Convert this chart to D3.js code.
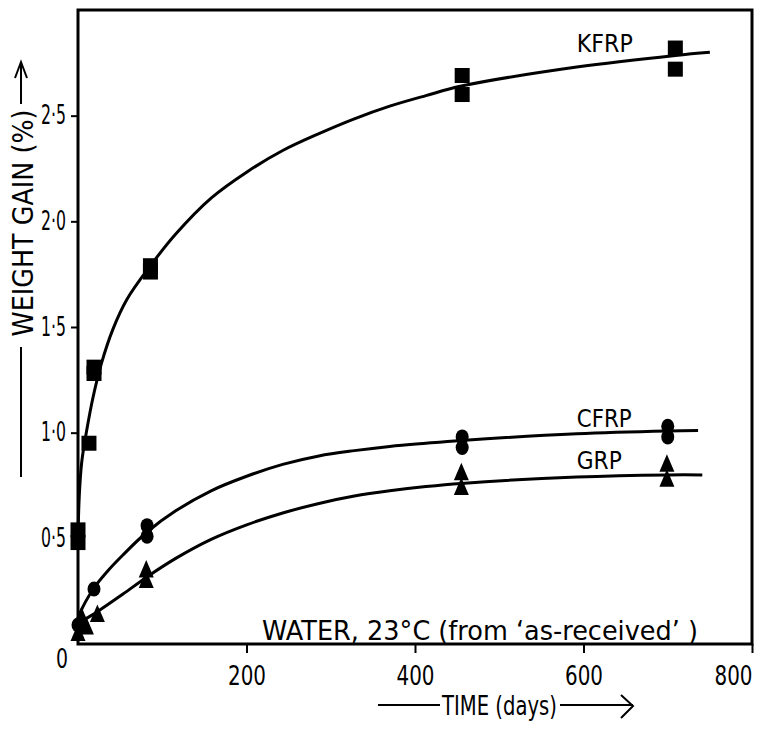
<!DOCTYPE html>
<html>
<head>
<meta charset="utf-8">
<script src="https://cdn.jsdelivr.net/npm/d3@7/dist/d3.min.js"></script>
<style>
  body { margin: 0; background: #fff; }
  svg text { font-family: 'DejaVu Sans', sans-serif; fill: #000; }
</style>
</head>
<body>
<svg id="chart" width="759" height="734"></svg>
<script>
// measured points: [time (days), weight gain (%)]
const kfrpPoints = [[0, 0.48], [0, 0.54], [13, 0.95], [19, 1.28], [19, 1.31], [86, 1.76], [86, 1.79],
    [456, 2.60], [456, 2.69], [709, 2.72], [709, 2.82]];
const cfrpPoints = [[0, 0.09], [19, 0.26], [82, 0.51], [82, 0.56], [456, 0.93], [456, 0.98],
    [700, 0.98], [700, 1.03]];
const grpPoints = [[0, 0.05], [4, 0.13], [10, 0.08], [23, 0.14], [81, 0.30], [81, 0.35],
    [455, 0.74], [455, 0.81], [699, 0.78], [699, 0.85]];

// fitted curves as drawn on the original
const kfrpCurve = [[0, 0.5], [1.5, 0.70], [4.4, 0.86], [10.3, 1.01], [18, 1.17], [28, 1.33], [41.5, 1.49],
    [58, 1.63], [86, 1.79], [116, 1.94], [158, 2.11], [201, 2.235], [243, 2.335], [286, 2.415], [328, 2.485],
    [370, 2.545], [413, 2.595], [455, 2.64], [592, 2.73], [709, 2.785], [750, 2.80]];
const cfrpCurve = [[0, 0.09], [3, 0.15], [19, 0.265], [34, 0.34], [53, 0.42], [82, 0.53], [116, 0.63],
    [158, 0.725], [201, 0.795], [243, 0.85], [286, 0.89], [328, 0.915], [370, 0.935], [413, 0.95],
    [455, 0.963], [592, 0.995], [700, 1.008], [736, 1.01]];
const grpCurve = [[0, 0.07], [3, 0.10], [22, 0.15], [53, 0.235], [81, 0.315], [116, 0.405], [158, 0.495],
    [201, 0.565], [243, 0.62], [286, 0.665], [328, 0.70], [370, 0.725], [413, 0.745], [455, 0.76],
    [592, 0.79], [700, 0.80], [741, 0.80]];

const seriesNames = ["KFRP", "CFRP", "GRP"];
const xTicks = [200, 400, 600, 800];
const yTicks = [0.5, 1.0, 1.5, 2.0, 2.5];
const yTickLabels = ["0·5", "1·0", "1·5", "2·0", "2·5"];

const svg = d3.select("#chart");
const plotLeft = 78, plotRight = 752, plotTop = 10, plotBottom = 644;

const x = d3.scaleLinear().domain([0, 800]).range([plotLeft, plotRight]);
const y = d3.scaleLinear().domain([0, 3]).range([plotBottom, plotTop]);

// frame
svg.append("rect")
    .attr("x", plotLeft).attr("y", plotTop)
    .attr("width", plotRight - plotLeft).attr("height", plotBottom - plotTop)
    .attr("fill", "none").attr("stroke", "#000").attr("stroke-width", 3);

// x axis
const xAxis = svg.append("g")
    .attr("transform", `translate(0,${plotBottom})`)
    .call(d3.axisBottom(x).tickValues(xTicks).tickSize(9).tickPadding(14));
xAxis.select(".domain").remove();
xAxis.selectAll(".tick line").attr("stroke-width", 2);
xAxis.selectAll(".tick text")
    .attr("font-size", 26)
    .attr("textLength", 38)
    .attr("lengthAdjust", "spacingAndGlyphs")
    .attr("dx", d => d === 800 ? -19 : 0); // last label sits left of its tick on the original

// y axis
const yAxis = svg.append("g")
    .attr("transform", `translate(${plotLeft},0)`)
    .call(d3.axisLeft(y).tickValues(yTicks).tickSize(7).tickPadding(5)
        .tickFormat((d, i) => yTickLabels[i]));
yAxis.select(".domain").remove();
yAxis.selectAll(".tick line").attr("stroke-width", 2);
yAxis.selectAll(".tick text")
    .attr("font-size", 26)
    .attr("textLength", 25)
    .attr("lengthAdjust", "spacingAndGlyphs");

// shared origin label
svg.append("text")
    .attr("x", x(0) - 16).attr("y", y(0) + 15)
    .attr("dy", "0.35em")
    .attr("text-anchor", "middle")
    .attr("font-size", 26)
    .attr("textLength", 12)
    .attr("lengthAdjust", "spacingAndGlyphs")
    .text("0");

// curves
const line = d3.line()
    .x(d => x(d[0]))
    .y(d => y(d[1]))
    .curve(d3.curveCatmullRom.alpha(0.5));

[kfrpCurve, cfrpCurve, grpCurve].forEach(c => {
    svg.append("path")
        .attr("d", line(c))
        .attr("fill", "none")
        .attr("stroke", "#000")
        .attr("stroke-width", 3);
});

// markers
svg.append("g").selectAll("rect")
    .data(kfrpPoints)
    .enter()
    .append("rect")
    .attr("x", d => x(d[0]) - 7.5)
    .attr("y", d => y(d[1]) - 7.5)
    .attr("width", 15).attr("height", 15)
    .attr("fill", "#000");

svg.append("g").selectAll("ellipse")
    .data(cfrpPoints)
    .enter()
    .append("ellipse")
    .attr("cx", d => x(d[0]))
    .attr("cy", d => y(d[1]))
    .attr("rx", 6.5).attr("ry", 7.5)
    .attr("fill", "#000");

svg.append("g").selectAll("path")
    .data(grpPoints)
    .enter()
    .append("path")
    .attr("transform", d => `translate(${x(d[0])},${y(d[1])})`)
    .attr("d", "M0,-10L7.5,7.5L-7.5,7.5Z")
    .attr("fill", "#000");

// curve labels
const labelSpec = [
    {t: 592, v: 2.80, w: 56},
    {t: 592, v: 1.027, w: 55},
    {t: 592, v: 0.828, w: 45}
];
labelSpec.forEach((s, i) => {
    svg.append("text")
        .attr("x", x(s.t)).attr("y", y(s.v))
        .attr("font-size", 25)
        .attr("textLength", s.w)
        .attr("lengthAdjust", "spacingAndGlyphs")
        .text(seriesNames[i]);
});

// condition note
svg.append("text")
    .attr("x", 262).attr("y", 640)
    .attr("font-size", 27)
    .attr("textLength", 436)
    .attr("lengthAdjust", "spacingAndGlyphs")
    .text("WATER, 23°C  (from ‘as-received’ )");

// x axis title with arrows
svg.append("text")
    .attr("x", 442).attr("y", 715)
    .attr("font-size", 27)
    .attr("textLength", 115)
    .attr("lengthAdjust", "spacingAndGlyphs")
    .text("TIME (days)");
svg.append("path")
    .attr("d", "M378,705H440M560,705H633M621,695L633,706L621,718")
    .attr("fill", "none").attr("stroke", "#000").attr("stroke-width", 2);

// y axis title with arrows
svg.append("text")
    .attr("transform", "rotate(-90)")
    .attr("x", -223).attr("y", 33)
    .attr("text-anchor", "middle")
    .attr("font-size", 28)
    .attr("textLength", 227)
    .attr("lengthAdjust", "spacingAndGlyphs")
    .text("WEIGHT GAIN (%)");
svg.append("path")
    .attr("d", "M21,477V347M21,104V62M15,78L21,62L27,78")
    .attr("fill", "none").attr("stroke", "#000").attr("stroke-width", 2);
</script>
</body>
</html>
